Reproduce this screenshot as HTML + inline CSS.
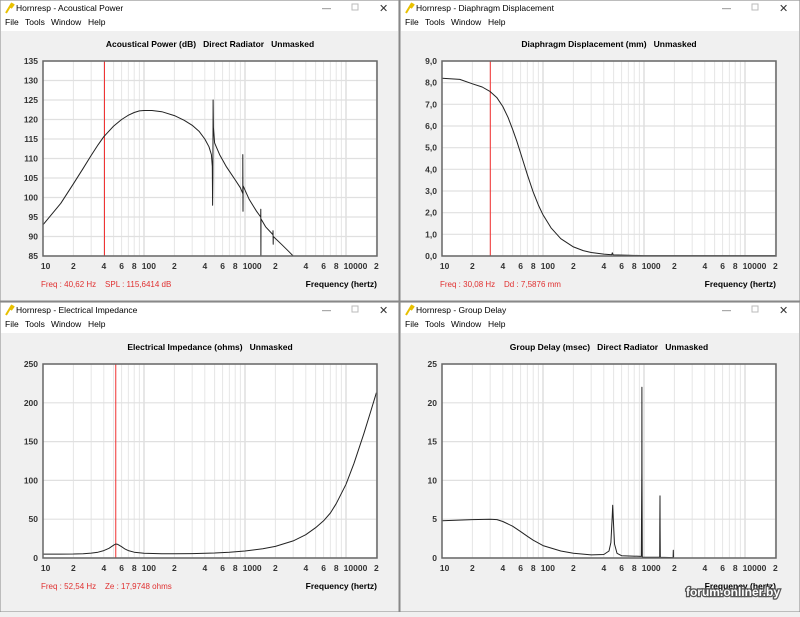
<!DOCTYPE html>
<html><head><meta charset="utf-8"><style>
body{margin:0;width:800px;height:612px;background:#f0f0f0;overflow:hidden;font-family:"Liberation Sans",sans-serif;}
</style></head><body>
<svg id="s" width="800" height="612" xmlns="http://www.w3.org/2000/svg" font-family="Liberation Sans, sans-serif"></svg>
<script>
const S=document.getElementById('s');let h='';
function win(x0,y0,w,hh,title){
 h+=`<rect x="${x0}" y="${y0}" width="${w}" height="${hh}" fill="#f0f0f0" stroke="#888" stroke-width="1"/>`;
 h+=`<rect x="${x0+1}" y="${y0+1}" width="${w-2}" height="30" fill="#fff"/>`;
 h+=`<path d="M${x0+6} ${y0+13} L${x0+12} ${y0+3} L${x0+11} ${y0+8} L${x0+14} ${y0+4}" stroke="#e8c000" stroke-width="2" fill="none"/>`;
 h+=`<text x="${x0+16}" y="${y0+11}" font-size="8.5" fill="#000">${title}</text>`;
 h+=`<text x="${x0+322}" y="${y0+11}" font-size="9" fill="#555">—</text><rect x="${x0+352}" y="${y0+4}" width="6" height="6" fill="none" stroke="#bbb"/><text x="${x0+379}" y="${y0+12}" font-size="11" fill="#333">✕</text>`;
 h+=`<text x="${x0+5}" y="${y0+25}" font-size="8.5">File</text><text x="${x0+25}" y="${y0+25}" font-size="8.5">Tools</text><text x="${x0+51}" y="${y0+25}" font-size="8.5">Window</text><text x="${x0+88}" y="${y0+25}" font-size="8.5">Help</text>`;
}
function plot(px,top,bot,ymin,ymax,ystep,fmt,ttl,pts,curf,info){
 const W=334,L=px;
 const X=f=>L+101*Math.log10(f/10);
 const Y=v=>bot-(v-ymin)/(ymax-ymin)*(bot-top);
 h+=`<rect x="${L}" y="${top}" width="${W}" height="${bot-top}" fill="#fff"/>`;
 for(let d=10;d<=10000;d*=10)for(let k=1;k<=9;k++){let f=d*k;if(f>20000)break;let x=X(f);h+=`<line x1="${x}" y1="${top}" x2="${x}" y2="${bot}" stroke="${k==1?'#cfcfcf':'#e6e6e6'}" stroke-width="1"/>`;}
 for(let v=ymin;v<=ymax+1e-9;v+=ystep){let y=Y(v);h+=`<line x1="${L}" y1="${y}" x2="${L+W}" y2="${y}" stroke="#e0e0e0" stroke-width="1.2"/>`;h+=`<text x="${L-5}" y="${y+3}" font-size="8.5" font-weight="bold" fill="#333" text-anchor="end">${fmt(v)}</text>`;}
 h+=`<text x="${L+W/2}" y="${top-14}" font-size="8.5" font-weight="bold" text-anchor="middle">${ttl}</text>`;
 const labs=[[10,'10'],[20,'2'],[40,'4'],[60,'6'],[80,'8'],[100,'100'],[200,'2'],[400,'4'],[600,'6'],[800,'8'],[1000,'1000'],[2000,'2'],[4000,'4'],[6000,'6'],[8000,'8'],[10000,'10000'],[20000,'2']];
 for(const [f,t] of labs)h+=`<text x="${X(f)+(t.length>1?t.length*2.3-2:0)}" y="${bot+13}" font-size="8.5" font-weight="bold" fill="#333" text-anchor="middle">${t}</text>`;
 h+=`<text x="${L+W}" y="${bot+31}" font-size="8.5" font-weight="bold" text-anchor="end">Frequency (hertz)</text>`;
 h+=`<text x="${L-2}" y="${bot+31}" font-size="8" fill="#e03030">${info}</text>`;
 if(curf)h+=`<line x1="${X(curf)}" y1="${top}" x2="${X(curf)}" y2="${bot}" stroke="#f03030" stroke-width="1"/>`;
 let d='';pts.forEach((p,i)=>{let y=Math.max(top,Math.min(bot,Y(p[1])));d+=(i?'L':'M')+X(p[0]).toFixed(1)+' '+y.toFixed(1);});
 h+=`<path d="${d}" fill="none" stroke="#222" stroke-width="1" stroke-linejoin="round"/>`;
 h+=`<rect x="${L}" y="${top}" width="${W}" height="${bot-top}" fill="none" stroke="#666" stroke-width="1.5"/>`;
}
const c=v=>v.toFixed(1).replace('.',',');
win(0,0,399,301,'Hornresp - Acoustical Power');
win(400,0,400,301,'Hornresp - Diaphragm Displacement');
win(0,302,399,310,'Hornresp - Electrical Impedance');
win(400,302,400,310,'Hornresp - Group Delay');
let ap=[[10,93],[15,98.5],[20,103.5],[25,107.5],[30,110.8],[35,113.5],[40,115.6],[50,118.3],[60,120],[70,121.1],[80,121.8],[90,122.2],[100,122.3],[120,122.3],[150,122],[200,121],[250,119.8],[300,118.5],[350,117],[400,115],[440,113],[465,111],[475,108],[478,98],[481,106],[483,125],[487,118],[500,114],[560,111],[650,108],[800,104.5],[900,102.5],[950,101],[952,111],[955,96.5],[958,103],[1100,99.5],[1300,96.5],[1430,95],[1432,97],[1436,85],[1440,94.5],[1600,92.5],[1890,90.5],[1895,91.5],[1900,88],[1905,90],[2300,88],[2700,86.2],[3000,85]];
plot(43,61,256,85,135,5,v=>v,'Acoustical Power (dB)&#160;&#160;&#160;Direct Radiator&#160;&#160;&#160;Unmasked',ap,40.62,'Freq : 40,62 Hz&#160;&#160;&#160;&#160;SPL : 115,6414 dB');
let dd=[[10,8.2],[15,8.15],[20,7.95],[25,7.8],[30,7.59],[35,7.3],[40,6.9],[45,6.4],[50,5.85],[55,5.3],[60,4.75],[70,3.75],[80,2.95],[90,2.35],[100,1.9],[120,1.3],[150,0.8],[200,0.42],[250,0.25],[300,0.16],[400,0.09],[480,0.06],[485,0.15],[495,0.05],[700,0.03],[1000,0.02],[20000,0.02]];
plot(442,61,256,0,9,1,c,'Diaphragm Displacement (mm)&#160;&#160;&#160;Unmasked',dd,30.08,'Freq : 30,08 Hz&#160;&#160;&#160;&#160;Dd : 7,5876 mm');
let ei=[[10,5],[15,5],[20,5.2],[25,5.6],[30,6.3],[35,7.5],[40,9.5],[45,12.5],[50,16.5],[52.5,18],[55,17.5],[60,14.5],[65,11.5],[70,9.5],[80,7.5],[100,6.2],[150,5.5],[200,5.4],[300,5.7],[500,6.5],[700,7.5],[1000,9],[1500,11.8],[2000,15],[3000,22],[4000,30],[5000,39],[6000,48],[7000,58],[8000,70],[10000,95],[12000,122],[15000,160],[17500,188],[20000,213]];
plot(43,364,558,0,250,50,v=>v,'Electrical Impedance (ohms)&#160;&#160;&#160;Unmasked',ei,52.54,'Freq : 52,54 Hz&#160;&#160;&#160;&#160;Ze : 17,9748 ohms');
let gd=[[10,4.8],[20,4.95],[30,5],[35,4.95],[40,4.7],[50,4.1],[60,3.4],[70,2.8],[80,2.3],[100,1.6],[150,0.9],[200,0.6],[300,0.4],[400,0.45],[450,0.9],[470,2],[483,5],[490,6.8],[497,5],[510,1.8],[540,0.6],[600,0.3],[940,0.2],[950,11],[953,22],[956,11],[962,0.1],[1430,0.1],[1435,4],[1440,8],[1445,4],[1450,0.1],[1940,0.05],[1950,1],[1960,0],[20000,0]];
plot(442,364,558,0,25,5,v=>v,'Group Delay (msec)&#160;&#160;&#160;Direct Radiator&#160;&#160;&#160;Unmasked',gd,0,'');
h+=`<text x="780" y="596" font-size="12" font-weight="bold" fill="#fff" stroke="#555" stroke-width="2.5" paint-order="stroke" text-anchor="end">forum.onliner.by</text>`;
S.innerHTML=h;
</script>
</body></html>
